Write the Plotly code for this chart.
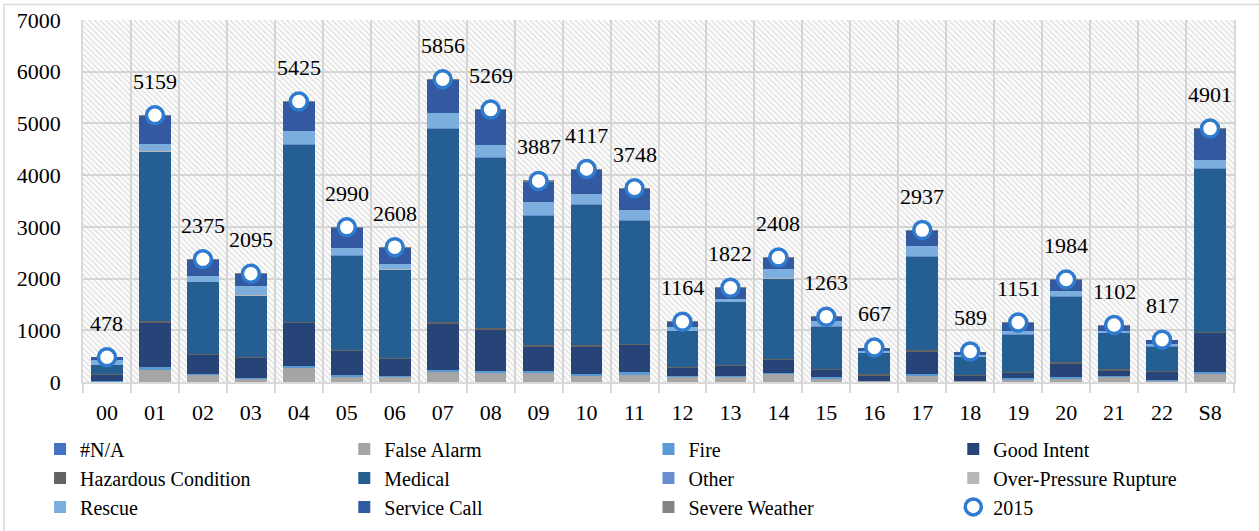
import plotly.graph_objects as go

categories = ["00", "01", "02", "03", "04", "05", "06", "07", "08", "09", "10", "11",
              "12", "13", "14", "15", "16", "17", "18", "19", "20", "21", "22", "S8"]

na_vals        = [0, 0, 0, 0, 0, 0, 0, 0, 0, 0, 0, 0, 0, 0, 0, 0, 0, 0, 0, 0, 0, 0, 0, 0]
false_alarm    = [15, 239, 142, 70, 271, 97, 97, 194, 181, 174, 129, 142, 110, 97, 161, 77, 20, 129, 20, 52, 77, 97, 32, 161]
fire           = [5, 50, 20, 15, 39, 32, 13, 45, 38, 32, 26, 52, 13, 13, 20, 13, 5, 32, 5, 19, 20, 13, 13, 33]
good_intent    = [125, 870, 367, 386, 832, 471, 335, 890, 800, 484, 535, 528, 148, 200, 251, 149, 104, 432, 91, 103, 258, 116, 149, 754]
hazardous      = [10, 30, 19, 20, 19, 26, 19, 26, 19, 26, 20, 20, 20, 19, 20, 19, 19, 20, 13, 19, 26, 19, 13, 19]
medical        = [180, 3260, 1387, 1186, 3431, 1825, 1710, 3747, 3303, 2509, 2728, 2386, 696, 1219, 1548, 819, 413, 1819, 355, 729, 1277, 703, 483, 3160]
other          = [3, 12, 6, 5, 12, 7, 6, 14, 12, 9, 10, 9, 4, 5, 6, 4, 2, 7, 2, 4, 5, 4, 3, 12]
over_pressure  = [0, 2, 1, 1, 2, 1, 1, 2, 2, 1, 1, 1, 0, 1, 1, 0, 0, 1, 0, 0, 1, 0, 0, 2]
rescue         = [85, 140, 110, 174, 245, 123, 96, 290, 219, 239, 187, 181, 77, 45, 174, 103, 39, 193, 32, 65, 103, 39, 39, 161]
service_call   = [55, 553, 322, 237, 571, 406, 330, 645, 692, 411, 479, 427, 95, 222, 226, 78, 65, 302, 71, 159, 216, 110, 85, 596]
severe_weather = [0, 3, 1, 1, 3, 2, 1, 3, 3, 2, 2, 2, 1, 1, 1, 1, 0, 2, 0, 1, 1, 1, 0, 3]
totals_2015    = [478, 5159, 2375, 2095, 5425, 2990, 2608, 5856, 5269, 3887, 4117, 3748,
                  1164, 1822, 2408, 1263, 667, 2937, 589, 1151, 1984, 1102, 817, 4901]

series = [
    ("#N/A", na_vals, "#4472C4", "legend"),
    ("False Alarm", false_alarm, "#A5A5A5", "legend2"),
    ("Fire", fire, "#5B9BD5", "legend3"),
    ("Good Intent", good_intent, "#264478", "legend4"),
    ("Hazardous Condition", hazardous, "#636363", "legend"),
    ("Medical", medical, "#255E91", "legend2"),
    ("Other", other, "#698ED0", "legend3"),
    ("Over-Pressure Rupture", over_pressure, "#B7B7B7", "legend4"),
    ("Rescue", rescue, "#7CAFDD", "legend"),
    ("Service Call", service_call, "#335AA1", "legend2"),
    ("Severe Weather", severe_weather, "#848484", "legend3"),
]

FONT = "Liberation Serif, DejaVu Serif"
GRID = "#d9d9d9"

fig = go.Figure()

# hatched plot-area background (decoration) on the hidden base axis
fig.add_trace(go.Bar(
    x=[0.5], y=[7000], width=[1], xaxis="x", yaxis="y",
    marker=dict(color="rgba(0,0,0,0)", line=dict(width=0),
                pattern=dict(shape="\\", fgcolor="#c4c4c4", bgcolor="rgba(0,0,0,0)",
                             size=4, solidity=0.4, fillmode="overlay")),
    showlegend=False, hoverinfo="skip",
))

for name, vals, color, lg in series:
    fig.add_trace(go.Bar(
        x=categories, y=vals, name=name, xaxis="x2", yaxis="y",
        marker=dict(color=color, line=dict(width=0)), legend=lg,
    ))

fig.add_trace(go.Scatter(
    x=categories, y=totals_2015, name="2015", mode="markers", xaxis="x2", yaxis="y",
    marker=dict(symbol="circle", size=17, color="white", line=dict(color="#2E7BCF", width=3.5)),
    legend="legend4",
))

for c, t in zip(categories, totals_2015):
    fig.add_annotation(x=c, y=t, xref="x2", yref="y", text=str(t), showarrow=False,
                       yshift=34, font=dict(family=FONT, size=22, color="#000000"))

legend_common = dict(orientation="v", yanchor="top", y=-0.131, xanchor="left",
                     traceorder="normal",
                     font=dict(family=FONT, size=20, color="#000000"),
                     bgcolor="rgba(0,0,0,0)", tracegroupgap=0, itemclick=False)

fig.update_layout(
    width=1259, height=531,
    margin=dict(l=83, r=25, t=20, b=149, autoexpand=False),
    paper_bgcolor="white", plot_bgcolor="white",
    barmode="stack", bargap=0.34,
    font=dict(family=FONT, size=22, color="#000000"),
    xaxis=dict(type="linear", range=[0, 1], visible=False, showgrid=False, zeroline=False),
    xaxis2=dict(type="category", overlaying="x", side="bottom", anchor="y",
                categoryorder="array", categoryarray=categories,
                range=[-0.5, len(categories) - 0.5],
                tickson="boundaries", ticks="outside", ticklen=9, tickcolor=GRID, tickwidth=1.5,
                showgrid=True, gridcolor=GRID, gridwidth=1.5,
                showline=True, linecolor=GRID, linewidth=1.5,
                tickfont=dict(family=FONT, size=22, color="#000000"),
                ticklabelstandoff=10),
    yaxis=dict(range=[0, 7000], dtick=1000, tick0=0, showgrid=True, gridcolor=GRID, gridwidth=1.5,
               zeroline=False, showline=True, linecolor=GRID, linewidth=1.5, mirror=True,
               ticks="", tickfont=dict(family=FONT, size=22, color="#000000"),
               ticklabelstandoff=16),
    legend=dict(legend_common, x=-0.0373),
    legend2=dict(legend_common, x=0.2270),
    legend3=dict(legend_common, x=0.4913),
    legend4=dict(legend_common, x=0.7561),
    shapes=[dict(type="rect", xref="paper", yref="paper",
                 x0=(4 - 83) / 1152, x1=(1275 - 83) / 1152,
                 y0=(382 - 560) / 362, y1=(382 - 4.5) / 362,
                 line=dict(color="#d9d9d9", width=1.5), fillcolor="rgba(0,0,0,0)", layer="below")],
)

fig.write_html("out.html", config={"displayModeBar": False},
               post_script="document.body.style.margin='0';")
